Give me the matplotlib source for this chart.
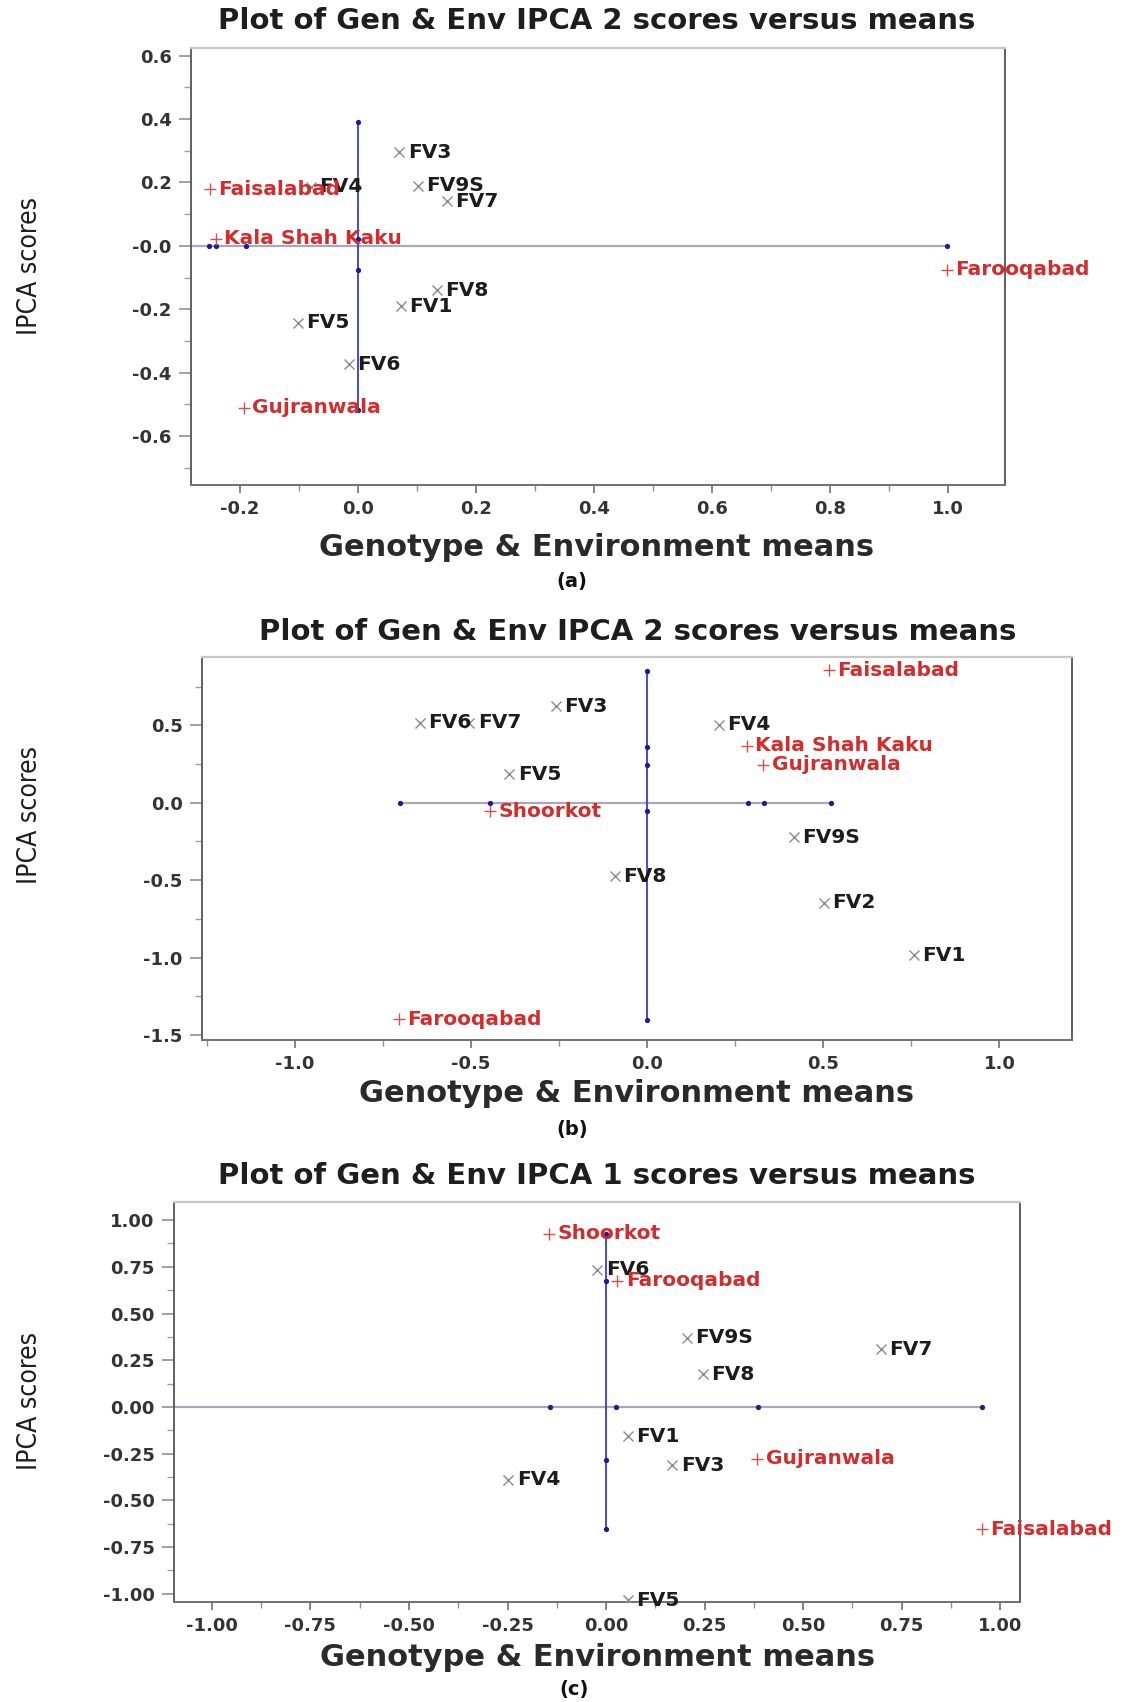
import matplotlib
matplotlib.use('Agg')
import matplotlib.pyplot as plt
from matplotlib.ticker import FixedLocator
from matplotlib import font_manager as fm

# ---------------- data ----------------
# Panel (a)
a_gen_names = ['FV3', 'FV4', 'FV9S', 'FV7', 'FV8', 'FV1', 'FV5', 'FV6']
a_gen_x = [0.070, -0.080, 0.102, 0.150, 0.134, 0.073, -0.102, -0.016]
a_gen_y = [0.296, 0.186, 0.189, 0.141, -0.140, -0.190, -0.242, -0.373]
a_env_names = ['Faisalabad', 'Kala Shah Kaku', 'Gujranwala', 'Farooqabad']
a_env_x = [-0.251, -0.241, -0.193, 0.997]
a_env_y = [0.178, 0.022, -0.510, -0.075]
a_hdots = [-0.253, -0.241, -0.190, 0.997]
a_vdots = [0.392, 0.186, 0.022, -0.077, -0.519]
a_xticks = [-0.2, 0.0, 0.2, 0.4, 0.6, 0.8, 1.0]
a_xticklabels = ['-0.2', '0.0', '0.2', '0.4', '0.6', '0.8', '1.0']
a_yticks = [-0.6, -0.4, -0.2, 0.0, 0.2, 0.4, 0.6]
a_yticklabels = ['-0.6', '-0.4', '-0.2', '-0.0', '0.2', '0.4', '0.6']
a_xminor = [-0.1, 0.1, 0.3, 0.5, 0.7, 0.9]
a_yminor = [-0.7, -0.5, -0.3, -0.1, 0.1, 0.3, 0.5]

# Panel (b)
b_gen_names = ['FV3', 'FV6', 'FV7', 'FV4', 'FV5', 'FV9S', 'FV8', 'FV2', 'FV1']
b_gen_x = [-0.260, -0.646, -0.505, 0.204, -0.391, 0.416, -0.091, 0.502, 0.757]
b_gen_y = [0.624, 0.516, 0.516, 0.503, 0.183, -0.222, -0.475, -0.645, -0.985]
b_env_names = ['Faisalabad', 'Kala Shah Kaku', 'Gujranwala', 'Shoorkot', 'Farooqabad']
b_env_x = [0.515, 0.282, 0.330, -0.445, -0.705]
b_env_y = [0.854, 0.368, 0.245, -0.054, -1.398]
b_hdots = [-0.703, -0.445, 0.285, 0.332, 0.522]
b_vdots = [0.849, 0.363, 0.241, -0.054, -1.400]
b_xticks = [-1.0, -0.5, 0.0, 0.5, 1.0]
b_xticklabels = ['-1.0', '-0.5', '0.0', '0.5', '1.0']
b_yticks = [-1.5, -1.0, -0.5, 0.0, 0.5]
b_yticklabels = ['-1.5', '-1.0', '-0.5', '0.0', '0.5']
b_xminor = [-1.25, -0.75, -0.25, 0.25, 0.75]
b_yminor = [-1.25, -0.75, -0.25, 0.25, 0.75]

# Panel (c)
c_gen_names = ['FV6', 'FV9S', 'FV7', 'FV8', 'FV1', 'FV3', 'FV4', 'FV5']
c_gen_x = [-0.022, 0.205, 0.698, 0.245, 0.056, 0.168, -0.248, 0.056]
c_gen_y = [0.735, 0.371, 0.309, 0.175, -0.157, -0.312, -0.389, -1.035]
c_env_names = ['Shoorkot', 'Farooqabad', 'Gujranwala', 'Faisalabad']
c_env_x = [-0.144, 0.029, 0.384, 0.954]
c_env_y = [0.928, 0.675, -0.278, -0.655]
c_hdots = [-0.143, 0.026, 0.386, 0.954]
c_vdots = [0.928, 0.675, -0.282, -0.655]
c_xticks = [-1.0, -0.75, -0.5, -0.25, 0.0, 0.25, 0.5, 0.75, 1.0]
c_xticklabels = ['-1.00', '-0.75', '-0.50', '-0.25', '0.00', '0.25', '0.50', '0.75', '1.00']
c_yticks = [-1.0, -0.75, -0.5, -0.25, 0.0, 0.25, 0.5, 0.75, 1.0]
c_yticklabels = ['-1.00', '-0.75', '-0.50', '-0.25', '0.00', '0.25', '0.50', '0.75', '1.00']
c_xminor = [-0.875, -0.625, -0.375, -0.125, 0.125, 0.375, 0.625, 0.875]
c_yminor = [-0.875, -0.625, -0.375, -0.125, 0.125, 0.375, 0.625, 0.875]

titles = ['Plot of Gen & Env IPCA 2 scores versus means',
          'Plot of Gen & Env IPCA 2 scores versus means',
          'Plot of Gen & Env IPCA 1 scores versus means']
xlabel_text = 'Genotype & Environment means'
ylabel_text = 'IPCA scores'
panel_tags = ['(a)', '(b)', '(c)']

# condensed font for the y label, if available
ylab_props = dict(family='Liberation Sans', fontsize=18)
try:
    fp = fm.FontProperties(family='DejaVu Sans', stretch='condensed')
    fpath = fm.findfont(fp, fallback_to_default=False)
    if 'ondensed' in fpath:
        ylab_props = dict(family='DejaVu Sans', fontstretch='condensed', fontsize=19)
except Exception:
    pass

# ---------------- layout (pixels) ----------------
W, H = 1140, 1702
fig = plt.figure(figsize=(W / 100, H / 100), dpi=100)
fig.patch.set_facecolor('white')


def fx(px):
    return px / W


def fy(py):
    return 1 - py / H


panels = [
    dict(box=(191, 48, 1005, 485), xlim=(-0.283, 1.096), ylim=(-0.754, 0.624),
         gn=a_gen_names, gx=a_gen_x, gy=a_gen_y, en=a_env_names, ex=a_env_x, ey=a_env_y,
         hd=a_hdots, vd=a_vdots, xt=a_xticks, xtl=a_xticklabels, yt=a_yticks, ytl=a_yticklabels,
         xm=a_xminor, ym=a_yminor, hfull=True,
         title_xy=(597, 21), xl_xy=(597, 547), yl_xy=(30, 266), tag_xy=(572, 582)),
    dict(box=(202, 657, 1072, 1040), xlim=(-1.264, 1.206), ylim=(-1.532, 0.941),
         gn=b_gen_names, gx=b_gen_x, gy=b_gen_y, en=b_env_names, ex=b_env_x, ey=b_env_y,
         hd=b_hdots, vd=b_vdots, xt=b_xticks, xtl=b_xticklabels, yt=b_yticks, ytl=b_yticklabels,
         xm=b_xminor, ym=b_yminor, hfull=False,
         title_xy=(638, 632), xl_xy=(637, 1094), yl_xy=(30, 815), tag_xy=(572, 1129)),
    dict(box=(174, 1202, 1020, 1602), xlim=(-1.096, 1.050), ylim=(-1.044, 1.097),
         gn=c_gen_names, gx=c_gen_x, gy=c_gen_y, en=c_env_names, ex=c_env_x, ey=c_env_y,
         hd=c_hdots, vd=c_vdots, xt=c_xticks, xtl=c_xticklabels, yt=c_yticks, ytl=c_yticklabels,
         xm=c_xminor, ym=c_yminor, hfull=True,
         title_xy=(597, 1176), xl_xy=(598, 1657), yl_xy=(30, 1401), tag_xy=(574, 1690)),
]

GEN_MARK = '#8c8c8c'
GEN_TEXT = '#1c1c1c'
ENV_MARK = '#d45050'
ENV_TEXT = '#d42c2c'
LINE_BLUE = '#3a3ac8'
DOT = '#1c1c9a'
HLINE = '#a8a8b8'

for i, p in enumerate(panels):
    l, t, r, b = p['box']
    ax = fig.add_axes([fx(l), fy(b), (r - l) / W, (b - t) / H])
    ax.set_xlim(*p['xlim'])
    ax.set_ylim(*p['ylim'])

    # reference lines
    hx0 = p['xlim'][0] if p['hfull'] else min(p['hd'])
    ax.plot([hx0, max(p['hd'])], [0, 0], color=HLINE, lw=1.6, zorder=1)
    ax.plot([0, 0], [min(p['vd']), max(p['vd'])], color=LINE_BLUE, lw=1.3, zorder=2)
    ax.plot(p['hd'], [0] * len(p['hd']), 'o', color=DOT, ms=3.8, zorder=3, mew=0)
    ax.plot([0] * len(p['vd']), p['vd'], 'o', color=DOT, ms=3.8, zorder=3, mew=0)

    # genotypes
    ax.plot(p['gx'], p['gy'], 'x', color=GEN_MARK, ms=7, mew=1.0, ls='none', zorder=4)
    for n, x, y in zip(p['gn'], p['gx'], p['gy']):
        ax.annotate(n, (x, y), xytext=(6, 0), textcoords='offset points',
                    ha='left', va='center', fontsize=14.5, fontweight='bold',
                    color=GEN_TEXT, zorder=5, annotation_clip=False)
    # environments
    ax.plot(p['ex'], p['ey'], '+', color=ENV_MARK, ms=9, mew=1.0, ls='none', zorder=4)
    for n, x, y in zip(p['en'], p['ex'], p['ey']):
        ax.annotate(n, (x, y), xytext=(6, 0), textcoords='offset points',
                    ha='left', va='center', fontsize=14.5, fontweight='bold',
                    color=ENV_TEXT, zorder=6, annotation_clip=False)

    # ticks
    ax.xaxis.set_major_locator(FixedLocator(p['xt']))
    ax.yaxis.set_major_locator(FixedLocator(p['yt']))
    ax.xaxis.set_minor_locator(FixedLocator(p['xm']))
    ax.yaxis.set_minor_locator(FixedLocator(p['ym']))
    ax.set_xticklabels(p['xtl'])
    ax.set_yticklabels(p['ytl'])
    ax.tick_params(axis='x', which='major', direction='out', length=6, width=1.2,
                   color='#707070', pad=5, labelsize=13, labelcolor='#333333')
    ax.tick_params(axis='x', which='minor', direction='out', length=4, width=1.0, color='#909090')
    ax.tick_params(axis='y', which='major', direction='out', length=9, width=1.2,
                   color='#909090', pad=5, labelsize=13, labelcolor='#333333')
    ax.tick_params(axis='y', which='minor', direction='out', length=5, width=1.0, color='#a0a0a0')
    for lab in ax.get_xticklabels() + ax.get_yticklabels():
        lab.set_fontweight('bold')

    ax.spines['top'].set_color('#c8c8c8')
    ax.spines['top'].set_linewidth(1.6)
    ax.spines['right'].set_color('#505050')
    ax.spines['right'].set_linewidth(1.3)
    ax.spines['left'].set_color('#606060')
    ax.spines['left'].set_linewidth(1.4)
    ax.spines['bottom'].set_color('#707070')
    ax.spines['bottom'].set_linewidth(1.4)

    # texts
    tx, ty = p['title_xy']
    fig.text(fx(tx), fy(ty), titles[i], ha='center', va='center', fontsize=21,
             fontweight='bold', color='#1e1e1e')
    lx, ly = p['xl_xy']
    fig.text(fx(lx), fy(ly), xlabel_text, ha='center', va='center', fontsize=22,
             fontweight='bold', color='#2a2a2a')
    yx, yy = p['yl_xy']
    fig.text(fx(yx), fy(yy), ylabel_text, ha='center', va='center',
             rotation=90, color='#1e1e1e', **ylab_props)
    gx_, gy_ = p['tag_xy']
    fig.text(fx(gx_), fy(gy_), panel_tags[i], ha='center', va='center', fontsize=14,
             fontweight='bold', color='#111111')

fig.savefig('out.png', dpi=100, facecolor='white')
